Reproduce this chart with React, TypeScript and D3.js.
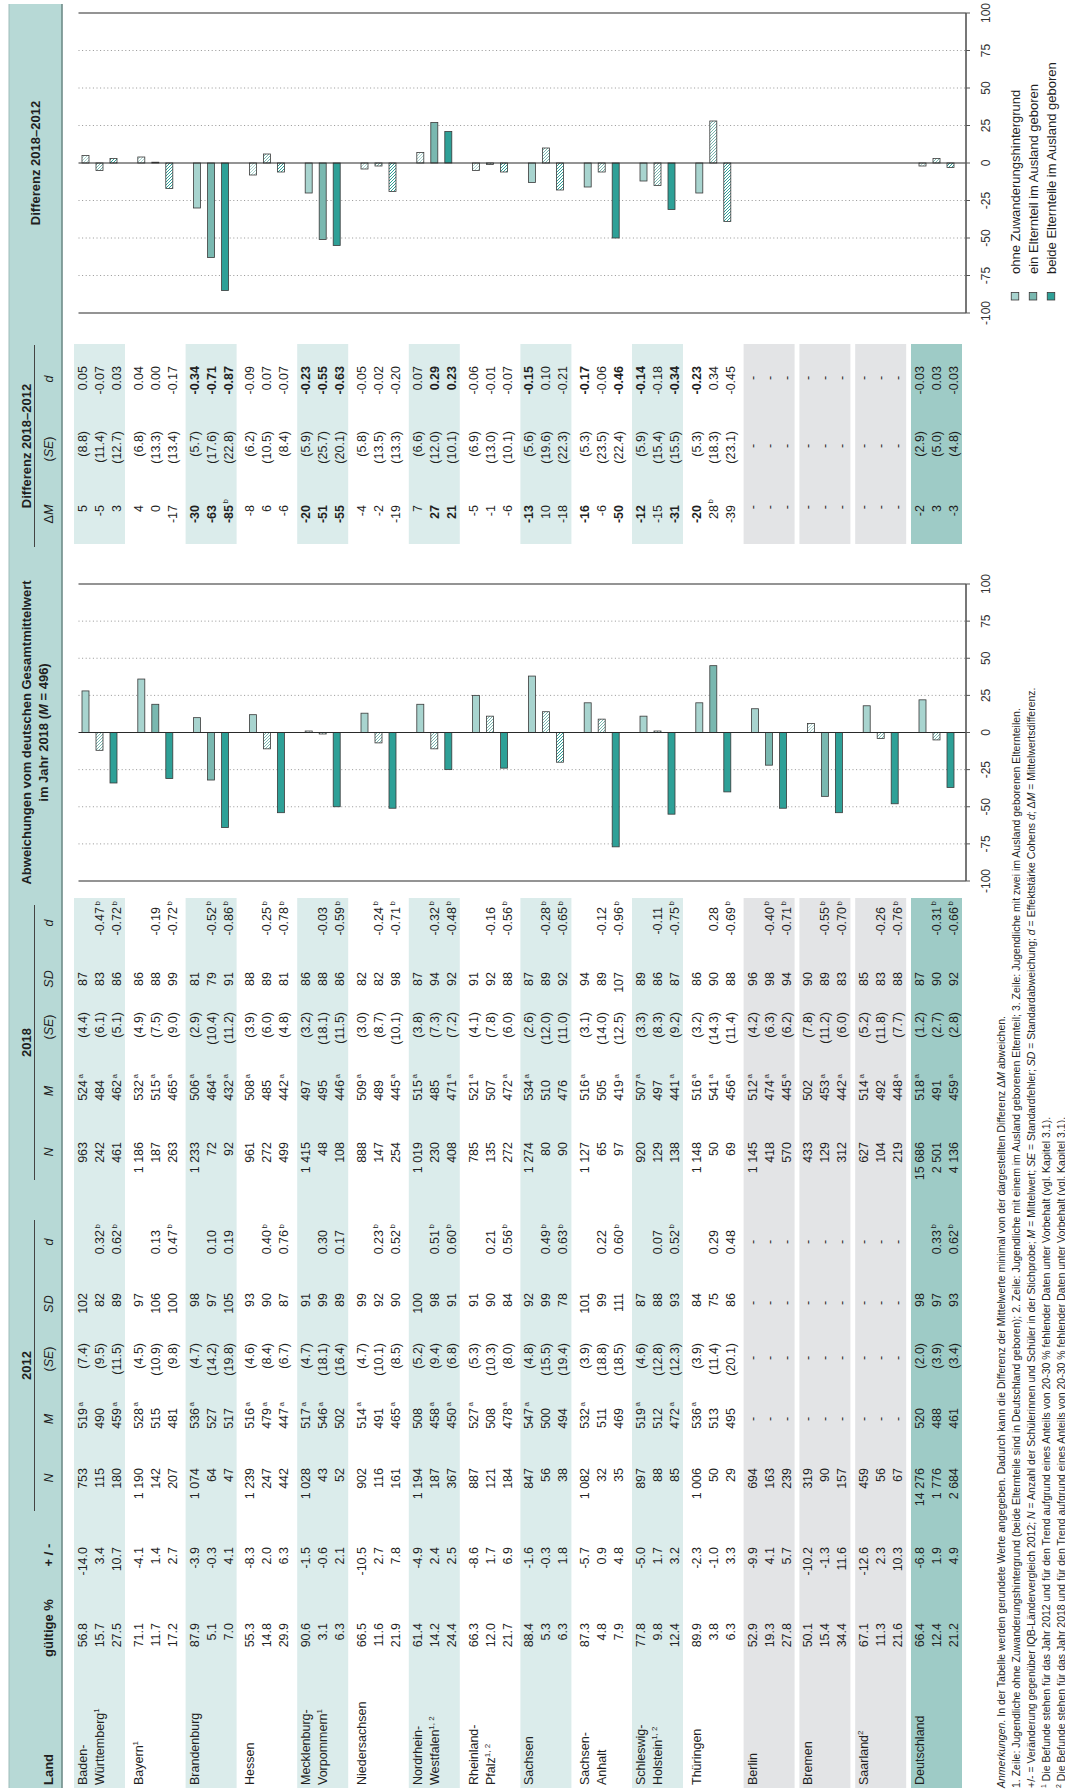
import React from "react";
import * as d3 from "d3";

// ---------- DATA ----------
const states = ["Baden-Württemberg","Bayern","Brandenburg","Hessen","Mecklenburg-Vorpommern","Niedersachsen","Nordrhein-Westfalen","Rheinland-Pfalz","Sachsen","Sachsen-Anhalt","Schleswig-Holstein","Thüringen","Berlin","Bremen","Saarland","Deutschland"];

const stateLabelLines: [string, string][][] = [
  [["Baden-", ""], ["Württemberg", "1"]],
  [["Bayern", "1"]],
  [["Brandenburg", ""]],
  [["Hessen", ""]],
  [["Mecklenburg-", ""], ["Vorpommern", "1"]],
  [["Niedersachsen", ""]],
  [["Nordrhein-", ""], ["Westfalen", "1, 2"]],
  [["Rheinland-", ""], ["Pfalz", "1, 2"]],
  [["Sachsen", ""]],
  [["Sachsen-", ""], ["Anhalt", ""]],
  [["Schleswig-", ""], ["Holstein", "1, 2"]],
  [["Thüringen", ""]],
  [["Berlin", ""]],
  [["Bremen", ""]],
  [["Saarland", "2"]],
  [["Deutschland", ""]],
];

const rowShade = ["teal","white","teal","white","teal","white","teal","white","teal","white","teal","white","gray","gray","gray","de"];

const groups = ["ohne Zuwanderungshintergrund", "ein Elternteil im Ausland geboren", "beide Elternteile im Ausland geboren"];

const pctValid = [[56.8,15.7,27.5],[71.1,11.7,17.2],[87.9,5.1,7.0],[55.3,14.8,29.9],[90.6,3.1,6.3],[66.5,11.6,21.9],[61.4,14.2,24.4],[66.3,12.0,21.7],[88.4,5.3,6.3],[87.3,4.8,7.9],[77.8,9.8,12.4],[89.9,3.8,6.3],[52.9,19.3,27.8],[50.1,15.4,34.4],[67.1,11.3,21.6],[66.4,12.4,21.2]];
const change = [[-14.0,3.4,10.7],[-4.1,1.4,2.7],[-3.9,-0.3,4.1],[-8.3,2.0,6.3],[-1.5,-0.6,2.1],[-10.5,2.7,7.8],[-4.9,2.4,2.5],[-8.6,1.7,6.9],[-1.6,-0.3,1.8],[-5.7,0.9,4.8],[-5.0,1.7,3.2],[-2.3,-1.0,3.3],[-9.9,4.1,5.7],[-10.2,-1.3,11.6],[-12.6,2.3,10.3],[-6.8,1.9,4.9]];

const n2012 = [[753,115,180],[1190,142,207],[1074,64,47],[1239,247,442],[1028,43,52],[902,116,161],[1194,187,367],[887,121,184],[847,56,38],[1082,32,35],[897,88,85],[1006,50,29],[694,163,239],[319,90,157],[459,56,67],[14276,1776,2684]];
const m2012: (number | null)[][] = [[519,490,459],[528,515,481],[536,527,517],[516,479,447],[517,546,502],[514,491,465],[508,458,450],[527,508,478],[547,500,494],[532,511,469],[519,512,472],[536,513,495],[null,null,null],[null,null,null],[null,null,null],[520,488,461]];
const m2012Sig = [[1,0,1],[1,0,0],[1,0,0],[1,1,1],[1,1,0],[1,0,1],[0,1,1],[1,0,1],[1,0,0],[1,0,0],[1,0,1],[1,0,0],[0,0,0],[0,0,0],[0,0,0],[0,0,0]];
const se2012: (number | null)[][] = [[7.4,9.5,11.5],[4.5,10.9,9.8],[4.7,14.2,19.8],[4.6,8.4,6.7],[4.7,18.1,16.4],[4.7,10.1,8.5],[5.2,9.4,6.8],[5.3,10.3,8.0],[4.8,15.5,19.4],[3.9,18.8,18.5],[4.6,12.8,12.3],[3.9,11.4,20.1],[null,null,null],[null,null,null],[null,null,null],[2.0,3.9,3.4]];
const sd2012: (number | null)[][] = [[102,82,89],[97,106,100],[98,97,105],[93,90,87],[91,99,89],[99,92,90],[100,98,91],[91,90,84],[92,99,78],[101,99,111],[87,88,93],[84,75,86],[null,null,null],[null,null,null],[null,null,null],[98,97,93]];
const d2012: (number | null)[][] = [[null,0.32,0.62],[null,0.13,0.47],[null,0.10,0.19],[null,0.40,0.76],[null,0.30,0.17],[null,0.23,0.52],[null,0.51,0.60],[null,0.21,0.56],[null,0.49,0.63],[null,0.22,0.60],[null,0.07,0.52],[null,0.29,0.48],[null,null,null],[null,null,null],[null,null,null],[null,0.33,0.62]];
const d2012Sig = [[0,1,1],[0,0,1],[0,0,0],[0,1,1],[0,0,0],[0,1,1],[0,1,1],[0,0,1],[0,1,1],[0,0,1],[0,0,1],[0,0,0],[0,0,0],[0,0,0],[0,0,0],[0,1,1]];
const has2012 = [1,1,1,1,1,1,1,1,1,1,1,1,0,0,0,1];

const n2018 = [[963,242,461],[1186,187,263],[1233,72,92],[961,272,499],[1415,48,108],[888,147,254],[1019,230,408],[785,135,272],[1274,80,90],[1127,65,97],[920,129,138],[1148,50,69],[1145,418,570],[433,129,312],[627,104,219],[15686,2501,4136]];
const m2018 = [[524,484,462],[532,515,465],[506,464,432],[508,485,442],[497,495,446],[509,489,445],[515,485,471],[521,507,472],[534,510,476],[516,505,419],[507,497,441],[516,541,456],[512,474,445],[502,453,442],[514,492,448],[518,491,459]];
const m2018Sig = [[1,0,1],[1,1,1],[1,1,1],[1,0,1],[0,0,1],[1,0,1],[1,0,1],[1,0,1],[1,0,0],[1,0,1],[1,0,1],[1,1,1],[1,1,1],[0,1,1],[1,0,1],[1,0,1]];
const se2018 = [[4.4,6.1,5.1],[4.9,7.5,9.0],[2.9,10.4,11.2],[3.9,6.0,4.8],[3.2,18.1,11.5],[3.0,8.7,10.1],[3.8,7.3,7.2],[4.1,7.8,6.0],[2.6,12.0,11.0],[3.1,14.0,12.5],[3.3,8.3,9.2],[3.2,14.3,11.4],[4.2,6.3,6.2],[7.8,11.2,6.0],[5.2,11.8,7.7],[1.2,2.7,2.8]];
const sd2018 = [[87,83,86],[86,88,99],[81,79,91],[88,89,81],[86,88,86],[82,82,98],[87,94,92],[91,92,88],[87,89,92],[94,89,107],[89,86,87],[86,90,88],[96,98,94],[90,89,83],[85,83,88],[87,90,92]];
const d2018: (number | null)[][] = [[null,-0.47,-0.72],[null,-0.19,-0.72],[null,-0.52,-0.86],[null,-0.25,-0.78],[null,-0.03,-0.59],[null,-0.24,-0.71],[null,-0.32,-0.48],[null,-0.16,-0.56],[null,-0.28,-0.65],[null,-0.12,-0.96],[null,-0.11,-0.75],[null,0.28,-0.69],[null,-0.40,-0.71],[null,-0.55,-0.70],[null,-0.26,-0.76],[null,-0.31,-0.66]];
const d2018Sig = [[0,1,1],[0,0,1],[0,1,1],[0,1,1],[0,0,1],[0,1,1],[0,1,1],[0,0,1],[0,1,1],[0,0,1],[0,0,1],[0,0,1],[0,1,1],[0,1,1],[0,0,1],[0,1,1]];

// Abweichungen vom deutschen Gesamtmittelwert 2018 (M = 496)
const abwDev = [[28,-12,-34],[36,19,-31],[10,-32,-64],[12,-11,-54],[1,-1,-50],[13,-7,-51],[19,-11,-25],[25,11,-24],[38,14,-20],[20,9,-77],[11,1,-55],[20,45,-40],[16,-22,-51],[6,-43,-54],[18,-4,-48],[22,-5,-37]];

// Differenz 2018-2012
const dM: (number | null)[][] = [[5,-5,3],[4,0,-17],[-30,-63,-85],[-8,6,-6],[-20,-51,-55],[-4,-2,-19],[7,27,21],[-5,-1,-6],[-13,10,-18],[-16,-6,-50],[-12,-15,-31],[-20,28,-39],[null,null,null],[null,null,null],[null,null,null],[-2,3,-3]];
const dMSig = [[0,0,0],[0,0,0],[1,1,1],[0,0,0],[1,1,1],[0,0,0],[0,1,1],[0,0,0],[1,0,0],[1,0,1],[1,0,1],[1,0,0],[0,0,0],[0,0,0],[0,0,0],[0,0,0]];
const dMNote = [[0,0,0],[0,0,0],[0,0,1],[0,0,0],[0,0,0],[0,0,0],[0,0,0],[0,0,0],[0,0,0],[0,0,0],[0,0,0],[0,1,0],[0,0,0],[0,0,0],[0,0,0],[0,0,0]];
const dSE: (number | null)[][] = [[8.8,11.4,12.7],[6.8,13.3,13.4],[5.7,17.6,22.8],[6.2,10.5,8.4],[5.9,25.7,20.1],[5.8,13.5,13.3],[6.6,12.0,10.1],[6.9,13.0,10.1],[5.6,19.6,22.3],[5.3,23.5,22.4],[5.9,15.4,15.5],[5.3,18.3,23.1],[null,null,null],[null,null,null],[null,null,null],[2.9,5.0,4.8]];
const dD: (number | null)[][] = [[0.05,-0.07,0.03],[0.04,0.00,-0.17],[-0.34,-0.71,-0.87],[-0.09,0.07,-0.07],[-0.23,-0.55,-0.63],[-0.05,-0.02,-0.20],[0.07,0.29,0.23],[-0.06,-0.01,-0.07],[-0.15,0.10,-0.21],[-0.17,-0.06,-0.46],[-0.14,-0.18,-0.34],[-0.23,0.34,-0.45],[null,null,null],[null,null,null],[null,null,null],[-0.03,0.03,-0.03]];

const tickValues = [-100,-75,-50,-25,0,25,50,75,100];

// ---------- STYLE / LAYOUT ----------
const W = 1065, H = 1791;
const FONT = "'Liberation Sans', Arial, Helvetica, sans-serif";
const TXT = "#1f1f1f";
const BAND = "#b7d9d6";
const SHADE: Record<string, string | null> = { teal: "#dbeceb", white: null, gray: "#e3e4e6", de: "#9ecbc6" };
const COLORS = ["#a8d4cf", "#79b8b0", "#2ea097"];
const FS = 12.5;

const loc = d3.formatLocale({ decimal: ".", thousands: " ", grouping: [3], currency: ["", ""], minus: "-" } as any);
const fN = loc.format(",d");
const f1 = loc.format(".1f");
const f2 = loc.format(".2f");
const f0 = loc.format("d");

// column right edges (landscape x)
const R = { pct: 168, chg: 244, n12: 323, m12: 383, se12: 448, sd12: 498, d12: 561, n18: 649, m18: 711, se18: 779, sd18: 819, d18: 884, dm: 1286, dse: 1360, dd: 1425 };
const HC = { pct: 163, chg: 236, n12: 313, m12: 372, se12: 432, sd12: 487, d12: 549, n18: 639, m18: 700, se18: 764, sd18: 812, d18: 868, dm: 1277, dse: 1342, dd: 1412 };

const rowBand = d3.scaleBand<string>().domain(states).range([74, 74 + 55.8 * 16 - 4.8]).paddingInner(0.086).paddingOuter(0);
const xA = d3.scaleLinear().domain([-100, 100]).range([910, 1207]);
const xD = d3.scaleLinear().domain([-100, 100]).range([1478, 1778]);
const CHART_TOP = 78.5, AXIS_Y = 966;

function NumCell({ x, y, text, sup, bold }: { x: number; y: number; text: string; sup?: string; bold?: boolean }) {
  return (
    <g>
      <text x={x} y={y} textAnchor="end" fontWeight={bold ? "bold" : "normal"}>{text}</text>
      {sup ? <text x={x + 1.5} y={y - 4.5} fontSize={8}>{sup}</text> : null}
    </g>
  );
}

function Chart({ scale, values, sig, skip }: { scale: d3.ScaleLinear<number, number>; values: (number | null)[][]; sig: number[][]; skip?: number[] }) {
  const x0 = scale(0);
  return (
    <g>
      {tickValues.filter(v => v !== 0 && Math.abs(v) !== 100).map(v => (
        <line key={"g" + v} x1={scale(v)} x2={scale(v)} y1={CHART_TOP} y2={AXIS_Y} stroke="#8a8a8a" strokeWidth={0.9} strokeDasharray="1,2.6" />
      ))}
      {states.map((s, i) => values[i].map((v, k) => {
        if (v === null || v === undefined) return null;
        const yc = rowBand(s)! + 25.5 + (k - 1) * 14;
        const xv = scale(v);
        const fill = sig[i][k] ? COLORS[k] : `url(#hatch${k})`;
        return <rect key={s + k} x={Math.min(x0, xv)} y={yc - 3.5} width={Math.max(Math.abs(xv - x0), 0.8)} height={7} fill={fill} stroke="#3a3a3a" strokeWidth={0.8} />;
      }))}
      <line x1={x0} x2={x0} y1={CHART_TOP} y2={AXIS_Y} stroke="#2a2a2a" strokeWidth={1.2} />
      <line x1={scale(-100)} x2={scale(-100)} y1={CHART_TOP} y2={AXIS_Y} stroke="#2a2a2a" strokeWidth={1.2} />
      <line x1={scale(100)} x2={scale(100)} y1={CHART_TOP} y2={AXIS_Y} stroke="#2a2a2a" strokeWidth={1.2} />
      <line x1={scale(-100)} x2={scale(100)} y1={AXIS_Y} y2={AXIS_Y} stroke="#555" strokeWidth={1.6} />
      {tickValues.map(v => (
        <g key={"t" + v}>
          <line x1={scale(v)} x2={scale(v)} y1={AXIS_Y} y2={AXIS_Y + 4} stroke="#555" strokeWidth={1} />
          <text x={scale(v)} y={990} textAnchor="middle" fontSize={12} fill="#333">{f0(v)}</text>
        </g>
      ))}
    </g>
  );
}

export default function App() {
  const tb = (i: number, k: number) => rowBand(states[i])! + 8.5 + 17 * k + 4.5;

  const rows = states.map((s, i) => {
    const y0 = rowBand(s)!;
    const bw = rowBand.bandwidth();
    const fill = SHADE[rowShade[i]];
    const els: React.ReactNode[] = [];
    if (fill) {
      els.push(<rect key="bg1" x={3} y={y0} width={890} height={bw} fill={fill} />);
      els.push(<rect key="bg2" x={1247} y={y0} width={200} height={bw} fill={fill} />);
    }
    stateLabelLines[i].forEach(([t, sup], k) => {
      els.push(<text key={"lab" + k} x={6} y={tb(i, k)}>{t}{sup ? <tspan dy={-5} fontSize={8}>{sup}</tspan> : null}</text>);
    });
    for (let k = 0; k < 3; k++) {
      const y = tb(i, k);
      els.push(<NumCell key={"pct" + k} x={R.pct} y={y} text={f1(pctValid[i][k])} />);
      els.push(<NumCell key={"chg" + k} x={R.chg} y={y} text={f1(change[i][k])} />);
      els.push(<NumCell key={"n12" + k} x={R.n12} y={y} text={fN(n2012[i][k])} />);
      if (has2012[i]) {
        els.push(<NumCell key={"m12" + k} x={R.m12} y={y} text={f0(m2012[i][k] as number)} sup={m2012Sig[i][k] ? "a" : ""} />);
        els.push(<NumCell key={"se12" + k} x={R.se12} y={y} text={`(${f1(se2012[i][k] as number)})`} />);
        els.push(<NumCell key={"sd12" + k} x={R.sd12} y={y} text={f0(sd2012[i][k] as number)} />);
        if (d2012[i][k] !== null) els.push(<NumCell key={"d12" + k} x={R.d12} y={y} text={f2(d2012[i][k] as number)} sup={d2012Sig[i][k] ? "b" : ""} />);
      } else {
        els.push(<text key={"m12" + k} x={R.m12 - 11} y={y} textAnchor="middle">-</text>);
        els.push(<text key={"se12" + k} x={R.se12 - 15} y={y} textAnchor="middle">-</text>);
        els.push(<text key={"sd12" + k} x={R.sd12 - 10} y={y} textAnchor="middle">-</text>);
        els.push(<text key={"d12" + k} x={R.d12 - 12} y={y} textAnchor="middle">-</text>);
      }
      els.push(<NumCell key={"n18" + k} x={R.n18} y={y} text={fN(n2018[i][k])} />);
      els.push(<NumCell key={"m18" + k} x={R.m18} y={y} text={f0(m2018[i][k])} sup={m2018Sig[i][k] ? "a" : ""} />);
      els.push(<NumCell key={"se18" + k} x={R.se18} y={y} text={`(${f1(se2018[i][k])})`} />);
      els.push(<NumCell key={"sd18" + k} x={R.sd18} y={y} text={f0(sd2018[i][k])} />);
      if (d2018[i][k] !== null) els.push(<NumCell key={"d18" + k} x={R.d18} y={y} text={f2(d2018[i][k] as number)} sup={d2018Sig[i][k] ? "b" : ""} />);
      // difference table
      if (dM[i][k] !== null) {
        els.push(<NumCell key={"dm" + k} x={R.dm} y={y} text={f0(dM[i][k] as number)} bold={!!dMSig[i][k]} sup={dMNote[i][k] ? "b" : ""} />);
        els.push(<NumCell key={"dse" + k} x={R.dse} y={y} text={`(${f1(dSE[i][k] as number)})`} />);
        els.push(<NumCell key={"dd" + k} x={R.dd} y={y} text={f2(dD[i][k] as number)} bold={!!dMSig[i][k]} />);
      } else {
        els.push(<text key={"dm" + k} x={R.dm} y={y} textAnchor="end">-</text>);
        els.push(<text key={"dse" + k} x={R.dse - 15} y={y} textAnchor="middle">-</text>);
        els.push(<text key={"dd" + k} x={R.dd - 12} y={y} textAnchor="middle">-</text>);
      }
    }
    return <g key={s}>{els}</g>;
  });

  const H1 = 31, H2 = 53;
  const it = (t: string) => <tspan fontStyle="italic">{t}</tspan>;

  const notesY = [1005, 1020, 1035, 1050, 1065];

  return (
    <svg width={W} height={H} style={{ position: "absolute", left: 0, top: 0, display: "block", background: "#fff" }} fontFamily={FONT} fill={TXT} fontSize={FS}>
      <defs>
        {COLORS.map((c, k) => (
          <pattern key={k} id={`hatch${k}`} patternUnits="userSpaceOnUse" width={3} height={3}>
            <rect width={3} height={3} fill="#fff" />
            <path d="M-1,-1 L4,4 M-1,2 L1,4 M2,-1 L4,1" stroke={c} strokeWidth={1} />
          </pattern>
        ))}
      </defs>
      <rect x={0} y={0} width={W} height={H} fill="#fff" />
      <g transform={`translate(0,${H}) rotate(-90)`}>
        {/* header band */}
        <rect x={3} y={9} width={1784} height={53} fill={BAND} />
        <line x1={3} x2={1787} y1={9} y2={9} stroke="#9fbdba" strokeWidth={1} />
        <line x1={3} x2={1787} y1={62} y2={62} stroke="#6f8c89" strokeWidth={1.6} />

        {/* header texts */}
        <text x={6} y={H2} fontWeight="bold" fontSize={13}>Land</text>
        <text x={HC.pct} y={H2} fontWeight="bold" fontSize={13} textAnchor="middle">gültige %</text>
        <text x={HC.chg} y={H2} fontWeight="bold" fontSize={13} textAnchor="middle">+ / -</text>
        <text x={(280 + 571) / 2} y={H1} fontWeight="bold" fontSize={13} textAnchor="middle">2012</text>
        <line x1={280} x2={571} y1={34.5} y2={34.5} stroke="#444" strokeWidth={1} />
        <text x={(611 + 886) / 2} y={H1} fontWeight="bold" fontSize={13} textAnchor="middle">2018</text>
        <line x1={611} x2={886} y1={34.5} y2={34.5} stroke="#444" strokeWidth={1} />
        <text x={HC.n12} y={H2} fontStyle="italic" textAnchor="middle">N</text>
        <text x={HC.m12} y={H2} fontStyle="italic" textAnchor="middle">M</text>
        <text x={HC.se12} y={H2} textAnchor="middle">({it("SE")})</text>
        <text x={HC.sd12} y={H2} fontStyle="italic" textAnchor="middle">SD</text>
        <text x={HC.d12} y={H2} fontStyle="italic" textAnchor="middle">d</text>
        <text x={HC.n18} y={H2} fontStyle="italic" textAnchor="middle">N</text>
        <text x={HC.m18} y={H2} fontStyle="italic" textAnchor="middle">M</text>
        <text x={HC.se18} y={H2} textAnchor="middle">({it("SE")})</text>
        <text x={HC.sd18} y={H2} fontStyle="italic" textAnchor="middle">SD</text>
        <text x={HC.d18} y={H2} fontStyle="italic" textAnchor="middle">d</text>

        <text x={xA(0)} y={H1} fontWeight="bold" fontSize={13} textAnchor="middle">Abweichungen vom deutschen Gesamtmittelwert</text>
        <text x={xA(0)} y={48} fontWeight="bold" fontSize={13} textAnchor="middle">im Jahr 2018 ({it("M")} = 496)</text>

        <text x={1345} y={H1} fontWeight="bold" fontSize={13} textAnchor="middle">Differenz 2018–2012</text>
        <line x1={1244} x2={1446} y1={34.5} y2={34.5} stroke="#444" strokeWidth={1} />
        <text x={HC.dm} y={H2} textAnchor="middle">Δ{it("M")}</text>
        <text x={HC.dse} y={H2} textAnchor="middle">({it("SE")})</text>
        <text x={HC.dd} y={H2} fontStyle="italic" textAnchor="middle">d</text>

        <text x={xD(0)} y={40} fontWeight="bold" fontSize={13} textAnchor="middle">Differenz 2018–2012</text>

        {rows}

        <Chart scale={xA} values={abwDev} sig={m2018Sig} />
        <Chart scale={xD} values={dM} sig={dMSig} />

        {/* legend */}
        {groups.map((g, k) => (
          <g key={g}>
            <rect x={1491} y={1015 + 18 * k - 3.75} width={7.5} height={7.5} fill={COLORS[k]} stroke="#3a3a3a" strokeWidth={0.8} />
            <text x={1517} y={1015 + 18 * k + 4.5} fontSize={13}>{g}</text>
          </g>
        ))}

        {/* footnotes */}
        <g fontSize={10.5}>
          <text x={3} y={notesY[0]}>{it("Anmerkungen")}. In der Tabelle werden gerundete Werte angegeben. Dadurch kann die Differenz der Mittelwerte minimal von der dargestellten Differenz Δ{it("M")} abweichen.</text>
          <text x={3} y={notesY[1]}>1. Zeile: Jugendliche ohne Zuwanderungshintergrund (beide Elternteile sind in Deutschland geboren); 2. Zeile: Jugendliche mit einem im Ausland geborenen Elternteil; 3. Zeile: Jugendliche mit zwei im Ausland geborenen Elternteilen.</text>
          <text x={3} y={notesY[2]}>+/- = Veränderung gegenüber IQB-Ländervergleich 2012; {it("N")} = Anzahl der Schülerinnen und Schüler in der Stichprobe; {it("M")} = Mittelwert; {it("SE")} = Standardfehler; {it("SD")} = Standardabweichung; {it("d")} = Effektstärke Cohens {it("d")}; Δ{it("M")} = Mittelwertsdifferenz.</text>
          <text x={3} y={notesY[3]}><tspan fontSize={7} dy={-4}>1</tspan><tspan dy={4}> Die Befunde stehen für das Jahr 2012 und für den Trend aufgrund eines Anteils von 20-30 % fehlender Daten unter Vorbehalt (vgl. Kapitel 3.1).</tspan></text>
          <text x={3} y={notesY[4]}><tspan fontSize={7} dy={-4}>2</tspan><tspan dy={4}> Die Befunde stehen für das Jahr 2018 und für den Trend aufgrund eines Anteils von 20-30 % fehlender Daten unter Vorbehalt (vgl. Kapitel 3.1).</tspan></text>
        </g>
      </g>
    </svg>
  );
}
